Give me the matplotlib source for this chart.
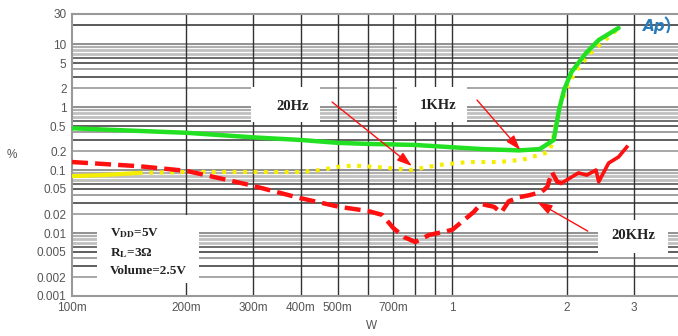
import matplotlib
matplotlib.use("Agg")
import matplotlib.pyplot as plt
from matplotlib.patches import Rectangle, Arc
import numpy as np

plt.rcParams['mathtext.fontset'] = 'stix'

# ---- data ----
green_w = [0.1, 0.2, 0.3, 0.4, 0.5, 0.6, 0.8, 1.0, 1.2, 1.5, 1.7, 1.85, 1.91, 1.97, 2.06, 2.25, 2.43, 2.74]
green_pct = [0.46, 0.39, 0.33, 0.30, 0.27, 0.26, 0.25, 0.23, 0.215, 0.205, 0.215, 0.30, 0.90, 1.87, 3.6, 7.2, 11.6, 18.0]

yellow_w = [0.1, 0.12, 0.15, 0.2, 0.3, 0.4, 0.45, 0.5, 0.55, 0.65, 0.78, 0.92, 1.1, 1.33, 1.5, 1.56, 1.8, 1.83,
            1.87, 1.93, 2.0, 2.1, 2.3, 2.5, 2.72]
yellow_pct = [0.08, 0.083, 0.09, 0.093, 0.093, 0.093, 0.10, 0.112, 0.118, 0.11, 0.10, 0.12, 0.134, 0.134, 0.144,
              0.15, 0.194, 0.26, 0.5, 1.1, 2.0, 3.5, 7.0, 11.0, 17.0]

red_w = [0.1, 0.15, 0.2, 0.293, 0.397, 0.505, 0.60, 0.655, 0.70, 0.748, 0.80, 0.87, 1.0, 1.14, 1.19, 1.29, 1.345,
         1.41, 1.5, 1.6, 1.72, 1.78, 1.83, 1.89, 1.94, 2.15, 2.26, 2.39, 2.43, 2.58, 2.74, 2.88]
red_pct = [0.134, 0.115, 0.097, 0.058, 0.036, 0.026, 0.0224, 0.0194, 0.012, 0.0086, 0.0072, 0.0093, 0.0112, 0.0216,
           0.029, 0.026, 0.021, 0.032, 0.037, 0.040, 0.045, 0.054, 0.093, 0.065, 0.062, 0.090, 0.083, 0.10, 0.065,
           0.129, 0.161, 0.232]

x_ticks = [0.1, 0.2, 0.3, 0.4, 0.5, 0.7, 1, 2, 3, 4]
x_labels = ['100m', '200m', '300m', '400m', '500m', '700m', '1', '2', '3', '4']
y_ticks = [0.001, 0.002, 0.005, 0.01, 0.02, 0.05, 0.1, 0.2, 0.5, 1, 2, 5, 10, 30]
y_labels = ['0.001', '0.002', '0.005', '0.01', '0.02', '0.05', '0.1', '0.2', '0.5', '1', '2', '5', '10', '30']

fig = plt.figure(figsize=(6.78, 3.36), dpi=100)
ax = fig.add_axes([72 / 678, 40 / 336, 609 / 678, 282 / 336])
ax.set_xscale('log')
ax.set_yscale('log')
ax.set_xlim(0.1, 4)
ax.set_ylim(0.001, 30)

# horizontal grid
hcol = {1: ('#888888', 1.3), 2: ('#a0a0a0', 1.3), 3: ('#444444', 1.2), 4: ('#999999', 1.3),
        5: ('#444444', 1.2), 6: ('#555555', 1.2), 7: ('#c0c0c0', 2.0), 8: ('#c0c0c0', 2.0), 9: ('#b0b0b0', 1.6)}
for d in range(-3, 2):
    for k in range(1, 10):
        v = k * 10.0 ** d
        if 0.001 < v < 30:
            c, lw = hcol[k]
            ax.axhline(v, color=c, lw=lw, zorder=1)
ax.axhline(20, color='#555555', lw=1.3, zorder=1)
# vertical grid
for v in [0.2, 0.3, 0.4, 0.5, 0.6, 0.7, 0.8, 0.9, 1, 2, 3]:
    ax.axvline(v, color='#333333', lw=1.0, zorder=1)

for s in ['left', 'bottom', 'top']:
    ax.spines[s].set_color('#999999')
    ax.spines[s].set_linewidth(1.5)
ax.spines['right'].set_visible(False)

ax.set_xticks(x_ticks)
ax.set_xticklabels(x_labels)
ax.set_yticks(y_ticks)
ax.set_yticklabels(y_labels)
ax.minorticks_off()
ax.tick_params(length=0, labelsize=8.5, labelcolor='#555555', pad=4)
for lab in ax.get_xticklabels() + ax.get_yticklabels():
    lab.set_family('Liberation Sans')

# white boxes
def box(x0, x1, y0, y1):
    ax.add_patch(Rectangle((x0, y0), x1 - x0, y1 - y0, transform=ax.transAxes,
                           facecolor='white', edgecolor='none', zorder=2))

box(0.294, 0.407, 0.617, 0.741)
box(0.534, 0.649, 0.617, 0.741)
box(0.864, 0.979, 0.152, 0.270)
box(0.041, 0.209, 0.046, 0.287)

tf = dict(family='Liberation Serif', weight='bold', color='#222222', zorder=3)
ax.text(0.363, 0.672, '20Hz', transform=ax.transAxes, ha='center', va='center', fontsize=10.5, **tf)
ax.text(0.601, 0.674, '1KHz', transform=ax.transAxes, ha='center', va='center', fontsize=10.5, **tf)
ax.text(0.921, 0.216, '20KHz', transform=ax.transAxes, ha='center', va='center', fontsize=10.5, **tf)
ax.text(0.062, 0.223, r'V$_{\mathbf{DD}}$=5V', transform=ax.transAxes, ha='left', va='center', fontsize=9.5, **tf)
ax.text(0.062, 0.152, r'R$_{\mathbf{L}}$=3Ω', transform=ax.transAxes, ha='left', va='center', fontsize=9.5, **tf)
ax.text(0.062, 0.089, 'Volume=2.5V', transform=ax.transAxes, ha='left', va='center', fontsize=9.5, **tf)

# curves
ax.plot(yellow_w[:3], yellow_pct[:3], color='#f5ee00', lw=3, zorder=4, solid_capstyle='butt')
ax.plot(yellow_w[2:], yellow_pct[2:], color='#f5ee00', lw=3, ls=(0, (0.9, 1.6)), zorder=4)
ax.plot(green_w, green_pct, color='#22e022', lw=3.2, zorder=5, solid_capstyle='round')
ax.plot(red_w[:25], red_pct[:25], color='#ff1010', lw=3.2, ls=(0, (3.6, 1.6)), zorder=5)
ax.plot(red_w[24:], red_pct[24:], color='#ff1010', lw=2.6, zorder=5)

# arrows
ap = dict(arrowstyle='-|>,head_length=0.9,head_width=0.3', color='#ff1010', lw=1.0, shrinkA=0, shrinkB=0)
ax.annotate('', xy=(0.558, 0.461), xytext=(0.427, 0.688), xycoords='axes fraction', textcoords='axes fraction',
            arrowprops=ap, zorder=6)
ax.annotate('', xy=(0.736, 0.518), xytext=(0.665, 0.695), xycoords='axes fraction', textcoords='axes fraction',
            arrowprops=ap, zorder=6)
ax.annotate('', xy=(0.764, 0.333), xytext=(0.847, 0.230), xycoords='axes fraction', textcoords='axes fraction',
            arrowprops=ap, zorder=6)

# axis labels
fig.text(12 / 678, 1 - 155 / 336, '%', fontsize=8.5, color='#555555', family='Liberation Sans', ha='center', va='center')
fig.text(372 / 678, 1 - 326 / 336, 'W', fontsize=8.5, color='#555555', family='Liberation Sans', ha='center', va='center')

# logo
fig.text(654 / 678, 1 - 27 / 336, 'Ap', fontsize=11, color='#2a7ab8', style='italic', weight='bold',
         family='DejaVu Sans', ha='center', va='center')
fig.add_artist(Arc((662 / 678, 1 - 26 / 336), 14 / 678, 20 / 336, theta1=-70, theta2=80,
                   transform=fig.transFigure, color='#2a7ab8', lw=1.5))

fig.savefig('out.png', dpi=100)
